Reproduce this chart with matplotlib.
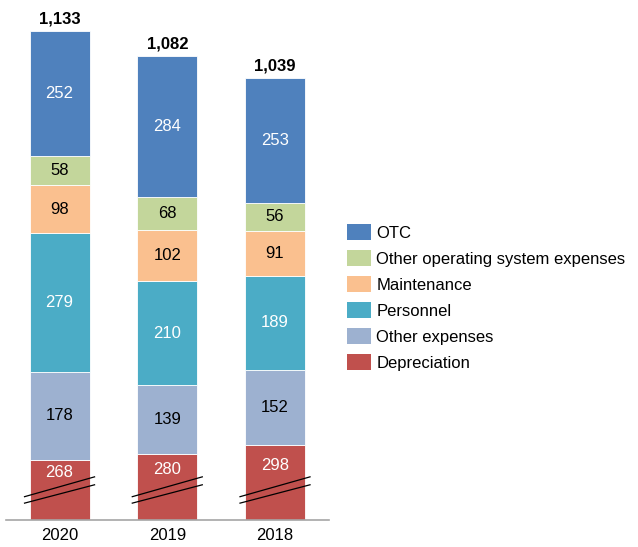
import matplotlib
matplotlib.use("Agg")
import matplotlib.pyplot as plt
import numpy as np
from matplotlib.patches import Patch

plt.rcParams['font.family'] = ['Liberation Sans', 'DejaVu Sans']

# data (bottom to top of the stack)
years = ['2020', '2019', '2018']
depreciation = [268, 280, 298]
other_expenses = [178, 139, 152]
personnel = [279, 210, 189]
maintenance = [98, 102, 91]
other_operating = [58, 68, 56]
otc = [252, 284, 253]
totals = [1133, 1082, 1039]

series_names = ['Depreciation', 'Other expenses', 'Personnel', 'Maintenance',
                'Other operating system expenses', 'OTC']
series_values = [depreciation, other_expenses, personnel, maintenance,
                 other_operating, otc]
colors = ['#C0504D', '#9DB1D0', '#4BACC6', '#FAC08F', '#C3D69B', '#4F81BD']
label_colors = ['white', 'black', 'white', 'black', 'black', 'white']

# the y axis is broken: depreciation bars start at this value
axis_break = 147

fig = plt.figure(figsize=(6.38, 5.47), dpi=100)
ax = fig.add_axes([6 / 638, 27 / 547, 323 / 638, 520 / 547])

x = np.arange(len(years))
width = 0.557
bottom = np.zeros(len(years))
for k, (name, vals) in enumerate(zip(series_names, series_values)):
    vals = np.array(vals, dtype=float)
    h = vals - axis_break if k == 0 else vals
    ax.bar(x, h, width, bottom=bottom, color=colors[k], edgecolor='white',
           linewidth=0.6, label=name)
    for i in range(len(years)):
        if k == 0:
            yc = (bottom[i] + h[i] + 70) / 2
        else:
            yc = bottom[i] + h[i] / 2
        ax.text(x[i], yc, str(int(vals[i])), ha='center', va='center',
                fontsize=12, color=label_colors[k])
    bottom += h

# totals on top
for i in range(len(years)):
    ax.annotate(f"{totals[i]:,}", (x[i], bottom[i]), xytext=(0, 5),
                textcoords='offset points', ha='center', va='baseline',
                fontsize=12, fontweight='bold')

# break marks
for i in range(len(years)):
    ax.plot([x[i] - 0.325, x[i] + 0.325], [47, 87], color='black', lw=0.9)
    ax.plot([x[i] - 0.325, x[i] + 0.325], [34, 71], color='black', lw=0.9)

ax.set_xlim(-0.497, 2.501)
ax.set_ylim(0, 520 / 0.496)
for s in ['top', 'right', 'left']:
    ax.spines[s].set_visible(False)
ax.spines['bottom'].set_color('#A6A6A6')
ax.spines['bottom'].set_linewidth(1.2)
ax.set_yticks([])
ax.set_xticks(x)
ax.set_xticklabels(years, fontsize=12)
ax.tick_params(axis='x', length=0, pad=6)

handles = [Patch(facecolor=colors[k], edgecolor='none', label=series_names[k])
           for k in range(len(series_names) - 1, -1, -1)]
fig.legend(handles=handles, loc='upper left',
           bbox_to_anchor=(347 / 638, 1 - 224 / 547), frameon=False,
           fontsize=12, borderpad=0, borderaxespad=0, handlelength=1.45,
           handleheight=1.1, handletextpad=0.3, labelspacing=0.56)

fig.savefig('out.png', dpi=100)
